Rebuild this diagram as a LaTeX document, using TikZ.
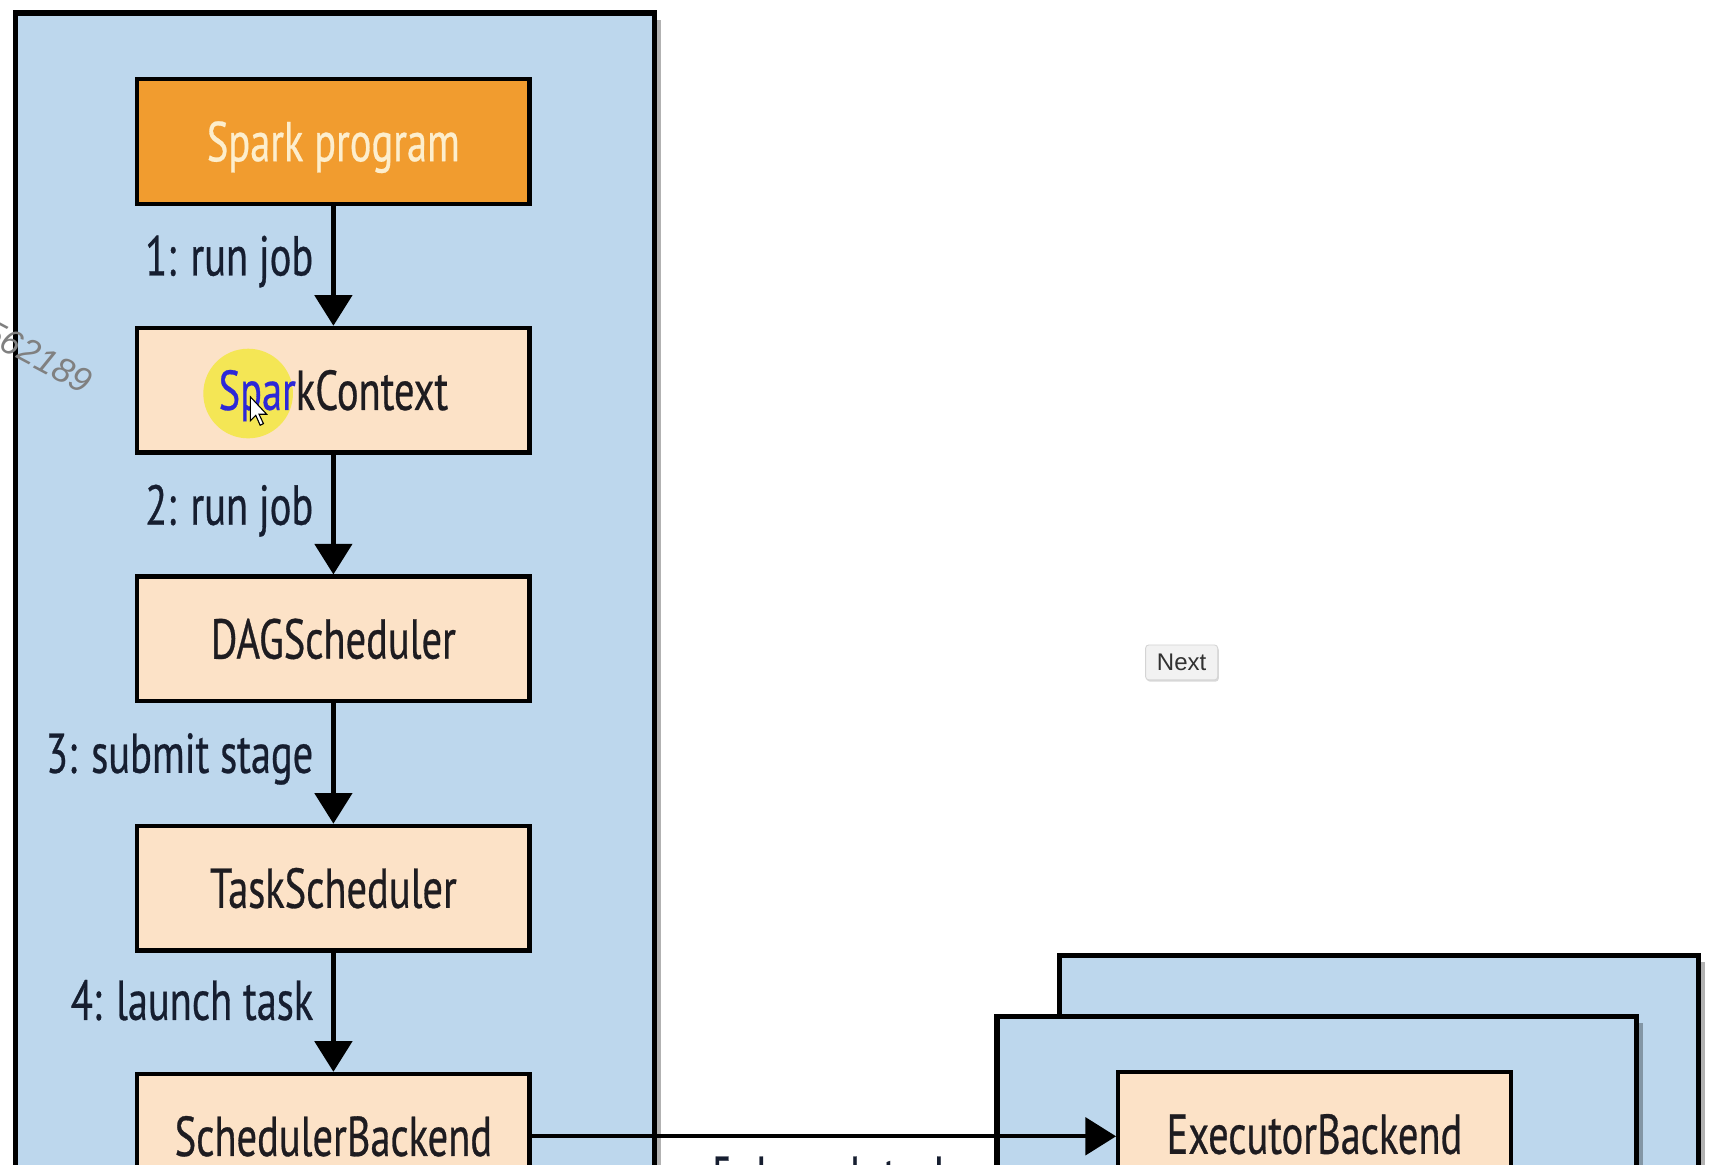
\documentclass[tikz,border=0pt]{standalone}
\usepackage{fontspec}
\setmainfont[FakeStretch=0.72,FakeBold=0.5]{PT Sans}
\newfontfamily\uifont{Liberation Sans}
\usetikzlibrary{arrows.meta,shadows}
\definecolor{panelblue}{RGB}{189,215,237}
\definecolor{peach}{RGB}{252,226,199}
\definecolor{orangebox}{RGB}{241,156,47}
\definecolor{creamtext}{RGB}{253,238,205}
\definecolor{inkdark}{RGB}{30,28,32}
\definecolor{labelink}{RGB}{22,30,48}
\definecolor{sparblue}{RGB}{45,40,215}
\definecolor{hiyellow}{RGB}{244,230,85}
\definecolor{btnfill}{RGB}{242,242,242}
\definecolor{btnline}{RGB}{212,212,212}
\definecolor{btntext}{RGB}{50,50,50}
\definecolor{wmgray}{RGB}{128,128,128}
\tikzset{
  panel/.style={draw=black, line width=2.4pt, fill=panelblue,
    drop shadow={shadow xshift=3pt, shadow yshift=-3pt, opacity=0.3, fill=black}},
  box/.style={draw=black, line width=2pt, fill=peach, minimum width=179.5pt,
    minimum height=57pt, inner sep=0pt, text height=18pt, text depth=0pt,
    font=\fontsize{25.7}{30}\selectfont, text=inkdark},
  boxtext/.style={inner sep=0pt, text height=18pt, text depth=0pt,
    font=\fontsize{25.7}{30}\selectfont, text=inkdark},
  steplabel/.style={anchor=base east, inner sep=0pt,
    font=\fontsize{25.7}{30}\selectfont, text=labelink},
  flow/.style={draw=black, line width=2pt, -{Triangle[width=17pt,length=14pt]}},
}
\begin{document}
\begin{tikzpicture}[x=0.5pt,y=-0.5pt]
\useasboundingbox (0,0) rectangle (1568,1065);
\clip (0,0) rectangle (1568,1065);
\fill[white] (0,0) rectangle (1568,1065);
% panels
\draw[panel] (14,12) rectangle (599,1200);
\draw[panel] (969,874) rectangle (1554,1200);
\draw[panel] (912,930) rectangle (1497,1200);
% boxes
\node[box, fill=orangebox, text=creamtext] (prog) at (305,129.5) {Spark program};
\node[box] (sc) at (305,357) {};
\fill[hiyellow] (227,360) circle[radius=41];
\node[boxtext] (sctext) at (sc.center) {\textcolor{sparblue}{Spar}kContext};
\node[box] (dag) at (305,584.5) {DAGScheduler};
\node[box] (ts) at (305,812.5) {TaskScheduler};
\node[box] (sb) at (305,1039.5) {SchedulerBackend};
\node[box] (eb) at (1202.5,1037.5) {ExecutorBackend};
% connectors
\draw[flow] (prog) -- (sc);
\draw[flow] (sc) -- (dag);
\draw[flow] (dag) -- (ts);
\draw[flow] (ts) -- (sb);
\draw[flow] (sb.east) -- (sb.east -| eb.west);
% labels
\node[steplabel] (l1) at (287,252) {1: run job};
\node[steplabel] (l2) at (287,480) {2: run job};
\node[steplabel] (l3) at (287,707) {3: submit stage};
\node[steplabel] (l4) at (287,933) {4: launch task};
\node[steplabel, anchor=base west] (l5) at (650,1094) {5: launch task};
% cursor
\filldraw[fill=white, draw=black, line width=0.5pt]
  (229,363) -- ++(0,22) -- ++(5,-5) -- ++(4,9) -- ++(3,-1.5) -- ++(-4,-8.5) -- ++(7,0) -- cycle;
% watermark
\node[anchor=base east, rotate=-28, inner sep=0pt, text=wmgray,
  font=\uifont\itshape\fontsize{16}{18}\selectfont] (wm) at (77,361) {562189};
% Next button
\node[draw=btnline, fill=btnfill, rounded corners=1.5pt, minimum width=33pt,
  minimum height=16pt, inner sep=0pt, text=btntext,
  font=\uifont\fontsize{11}{12}\selectfont,
  drop shadow={shadow xshift=0.5pt, shadow yshift=-0.8pt, opacity=0.15, fill=black}]
  (next) at (1081,606) {Next};
\end{tikzpicture}
\end{document}
